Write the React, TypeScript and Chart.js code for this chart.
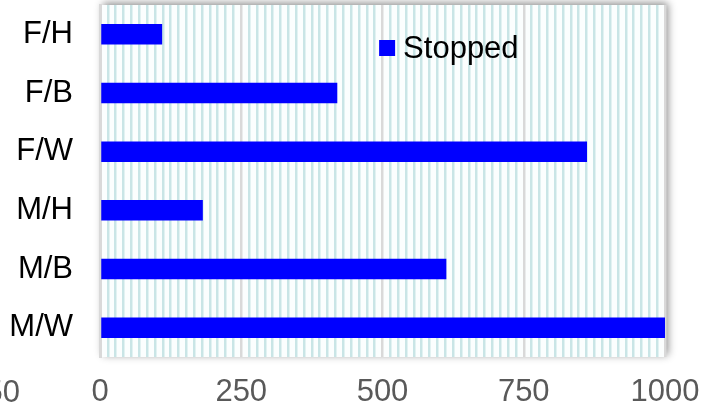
import React, { useEffect, useRef } from "react";
import { Chart, registerables } from "chart.js";

Chart.register(...registerables);

const categories = ["F/H", "F/B", "F/W", "M/H", "M/B", "M/W"];
const stoppedValues = [110, 420, 862, 182, 613, 1000];
const seriesLabel = "Stopped";
const xTickLabels = [0, 250, 500, 750, 1000];
const extraLeftLabel = "-250";

const FONT = "'Liberation Sans', Arial, sans-serif";
const MAJOR = 250;
const MINOR_PER_MAJOR = 18;

const isMajor = (v: number) => Math.abs(v / MAJOR - Math.round(v / MAJOR)) < 1e-6;

export default function App() {
  const ref = useRef<HTMLCanvasElement | null>(null);

  useEffect(() => {
    document.body.style.margin = "0";
    const canvas = ref.current;
    if (!canvas) return;

    const plotBg = {
      id: "plotBg",
      beforeDraw(chart: any) {
        const { ctx, chartArea } = chart;
        ctx.save();
        ctx.shadowColor = "rgba(0,0,0,0.45)";
        ctx.shadowBlur = 8;
        ctx.shadowOffsetX = 3;
        ctx.shadowOffsetY = -2;
        ctx.fillStyle = "#fbfefe";
        ctx.fillRect(chartArea.left, chartArea.top, chartArea.right - chartArea.left, chartArea.bottom - chartArea.top);
        ctx.restore();
      },
    };

    const customLegend = {
      id: "customLegend",
      afterDraw(chart: any) {
        const { ctx, chartArea } = chart;
        const w = chartArea.right - chartArea.left;
        const x = chartArea.left + w * 0.494;
        const y = chartArea.top + 43;
        ctx.save();
        ctx.fillStyle = chart.data.datasets[0].backgroundColor;
        ctx.fillRect(x, y - 8, 16, 16);
        ctx.fillStyle = "#000000";
        ctx.font = `31px ${FONT}`;
        ctx.textAlign = "left";
        ctx.textBaseline = "middle";
        ctx.fillText(chart.data.datasets[0].label, x + 24, y + 1);
        // partially visible leftmost axis label
        const xs = chart.scales.x;
        ctx.fillStyle = "#595959";
        ctx.textAlign = "right";
        ctx.fillText(extraLeftLabel, xs.left - 80, 393);
        ctx.restore();
      },
    };

    const chart = new Chart(canvas, {
      type: "bar",
      data: {
        labels: categories,
        datasets: [
          {
            label: seriesLabel,
            data: stoppedValues,
            backgroundColor: "#0000ff",
            borderWidth: 0,
            barPercentage: 0.7,
            categoryPercentage: 0.5,
          },
        ],
      },
      options: {
        indexAxis: "y",
        responsive: false,
        animation: false,
        layout: { padding: { top: 5, right: 48, left: 0, bottom: 0 } },
        plugins: {
          legend: { display: false },
          tooltip: { enabled: false },
        },
        scales: {
          x: {
            min: xTickLabels[0],
            max: xTickLabels[xTickLabels.length - 1],
            ticks: {
              stepSize: MAJOR / MINOR_PER_MAJOR,
              autoSkip: false,
              maxRotation: 0,
              color: "#595959",
              font: { family: FONT, size: 31 },
              padding: 17,
              callback: (v: any) => (isMajor(Number(v)) ? String(Math.round(Number(v))) : ""),
            },
            grid: {
              drawTicks: false,
              color: (c: any) => (isMajor(c.tick?.value ?? 0) ? "#d9d9d9" : "#c9e5e6"),
              lineWidth: 2.5,
            },
            border: { display: false },
            afterFit: (s: any) => {
              s.height = 54;
              s.paddingLeft = 0;
              s.paddingRight = 0;
            },
          },
          y: {
            ticks: {
              color: "#000000",
              font: { family: FONT, size: 31 },
              padding: 27,
            },
            grid: { display: false, drawTicks: false },
            border: { display: true, color: "#d9d9d9", width: 3 },
            afterFit: (s: any) => {
              s.width = 100;
              s.paddingTop = 0;
              s.paddingBottom = 0;
            },
          },
        },
      },
      plugins: [plotBg, customLegend],
    });

    return () => chart.destroy();
  }, []);

  return (
    <div style={{ position: "absolute", left: 0, top: 0, width: 713, height: 411 }}>
      <canvas ref={ref} width={713} height={411} />
    </div>
  );
}
